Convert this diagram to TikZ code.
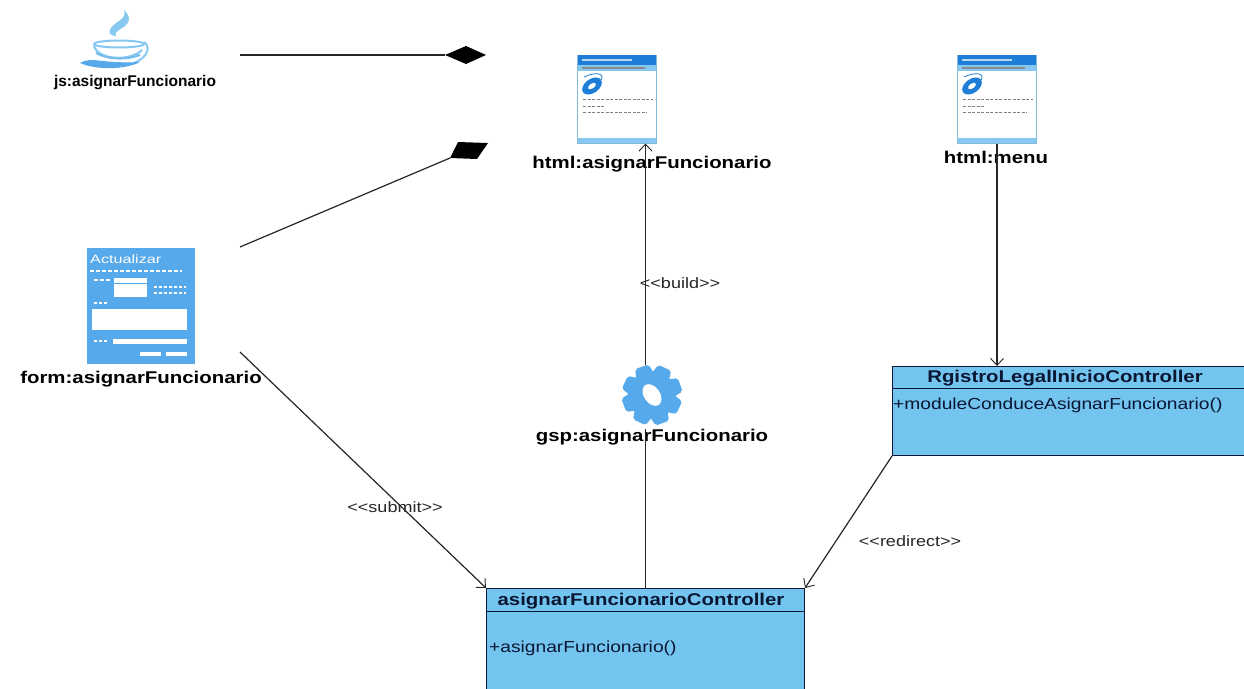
\documentclass[tikz,border=0pt]{standalone}
\usepackage{fontspec}
\setmainfont{Liberation Sans}
\usetikzlibrary{arrows.meta,shapes.geometric}
\definecolor{classblue}{RGB}{115,197,240}
\definecolor{iconblue}{RGB}{86,170,235}
\definecolor{iconpale}{RGB}{135,200,240}
\definecolor{headblue}{RGB}{30,125,215}
\definecolor{ink}{RGB}{10,22,50}
\newcommand{\wide}[1]{\scalebox{1.2}[1]{#1}}
\newcommand{\widemember}[1]{\scalebox{1.2}[1]{#1}}
\tikzset{
  conn/.style={draw=black!85,line width=1.2pt},
  arr/.style={conn,-{Straight Barb[length=7pt,width=13pt,line width=0.9pt]}},
  lbl/.style={font=\fontsize{17}{19}\selectfont\bfseries,text=black,inner sep=0pt},
  edge label/.style={font=\fontsize{15}{17}\selectfont,text=black!85,inner sep=0pt},
  classbox/.style={draw=ink,line width=1pt,fill=classblue,inner sep=0pt},
  classname/.style={font=\fontsize{17}{19}\selectfont\bfseries,text=ink,inner sep=0pt},
  member/.style={font=\fontsize{16}{18}\selectfont,text=ink,inner sep=0pt,anchor=west},
  pageicon/.style={draw=iconpale!80!gray,line width=1pt,fill=white,minimum width=79pt,minimum height=88pt,inner sep=0pt},
  diamondhead/.style={fill=black,draw=none},
}
\newcommand{\pagedetails}[1]{%
  \begin{scope}[shift={(#1)}]
    \fill[headblue] (-39,-44) rectangle (39,-34);
    \fill[iconpale] (-39,-34) rectangle (39,-28);
    \fill[iconpale] (-39,39) rectangle (39,44);
    \fill[white,opacity=.7] (-35,-40) rectangle (15,-38);
    \fill[black!45] (-35,-32) rectangle (28,-30);
    \fill[headblue,rotate around={35:(-25,-13)}] (-25,-13) ellipse (11 and 7);
    \fill[white,rotate around={35:(-25,-13)}] (-25,-13) ellipse (4.5 and 2.4);
    \draw[headblue,line width=.8pt] (-33,-22) .. controls (-20,-28) and (-12,-25) .. (-16,-19);
    \foreach \yy/\xe in {0/36,7/-12,13/30}{
      \draw[black!50,line width=1pt,dash pattern=on 3pt off 1.5pt] (-34,\yy) -- (\xe,\yy);
    }
  \end{scope}}
\begin{document}
\begin{tikzpicture}[x=1pt,y=-1pt]
\useasboundingbox (0,0) rectangle (1244,688);
\clip (0,0) rectangle (1244,688);
\fill[white] (0,0) rectangle (1244,688);

% free connector ends
\coordinate (jsEnd) at (240,55);
\coordinate (jsTip) at (445,55);
\coordinate (formUp) at (240,247);
\coordinate (formTip) at (450,158);
\coordinate (formDown) at (240,352);

% java icon
\node[minimum width=72pt,minimum height=64pt,inner sep=0pt] (jsicon) at (116,41) {};
\fill[iconpale] (124,10) .. controls (128,20) and (112,22) .. (110,30) .. controls (108,34) and (112,36) .. (116,36)
  .. controls (112,30) and (130,28) .. (129,18) .. controls (128,14) and (126,12) .. (124,10) -- cycle;
\draw[iconpale,line width=2pt] (119,44) ellipse (25 and 3.5);
\draw[iconpale,line width=2.2pt] (94,46) .. controls (98,60) and (130,62) .. (142,50);
\draw[iconblue!80,line width=2pt] (96,53) .. controls (108,60) and (128,60) .. (140,55);
\draw[iconpale,line width=2pt] (144,42) .. controls (150,46) and (150,56) .. (134,63);
\fill[iconblue] (80,63) .. controls (92,56) and (100,64) .. (140,62) .. controls (125,70) and (95,70) .. (80,63) -- cycle;
\node[lbl,font=\fontsize{15.5}{17}\selectfont\bfseries] (jslabel) at (135,83) {js:asignarFuncionario};

% html icons
\node[pageicon] (htmlicon) at (617,99) {};
\pagedetails{617,99}
\node[lbl] (htmllabel) at (652,164) {\wide{html:asignarFuncionario}};
\node[pageicon] (menuicon) at (997,99) {};
\pagedetails{997,99}
\node[lbl] (menulabel) at (996,157) {\wide{html:menu}};

% form icon
\node[fill=iconblue,minimum width=108pt,minimum height=116pt,inner sep=0pt] (formicon) at (141,306) {};
\node[anchor=west,font=\fontsize{12}{14}\selectfont,text=white,inner sep=0pt] (formtitle) at (90,259) {\scalebox{1.35}[1]{Actualizar}};
\draw[white,line width=1.6pt,dash pattern=on 4pt off 2pt] (90,271) -- (182,271);
\draw[white,line width=1.6pt,dash pattern=on 4pt off 2pt] (94,280) -- (110,280);
\fill[white] (114,278) rectangle (147,297);
\draw[iconblue,line width=1pt] (114,283) -- (147,283);
\draw[white,line width=1.6pt,dash pattern=on 3pt off 2pt] (154,287) -- (186,287);
\draw[white,line width=1.6pt,dash pattern=on 3pt off 2pt] (154,293) -- (186,293);
\draw[white,line width=1.6pt,dash pattern=on 3pt off 2pt] (94,303) -- (108,303);
\fill[white] (92,309) rectangle (187,330);
\draw[white,line width=1.6pt,dash pattern=on 3pt off 2pt] (94,341) -- (108,341);
\fill[white] (113,339) rectangle (187,344);
\fill[white] (140,352) rectangle (161,356);
\fill[white] (166,352) rectangle (187,356);
\node[lbl] (formlabel) at (141,379) {\wide{form:asignarFuncionario}};

% gear icon
\node[minimum width=60pt,minimum height=60pt,inner sep=0pt] (gear) at (652,395) {};
\foreach \a in {0,45,...,315}{
  \fill[iconblue,rotate around={\a+20:(652,395)},rounded corners=2pt] (645,365) -- (659,365) -- (662,378) -- (642,378) -- cycle;
}
\fill[iconblue] (652,395) circle (24);
\fill[white,rotate around={35:(652,395)}] (652,395) ellipse (8 and 12);
\node[lbl] (gsplabel) at (652,437) {\wide{gsp:asignarFuncionario}};

% classes
\node[classbox,minimum width=318pt,minimum height=130pt,anchor=north west] (ctrl) at (486,588) {};
\draw[ink,line width=1pt] (486,611) -- (804,611);
\node[classname] (ctrlname) at (641,601) {\wide{asignarFuncionarioController}};
\node[member] (ctrlmember) at (489,648) {\widemember{+asignarFuncionario()}};

\node[classbox,minimum width=372pt,minimum height=89pt,anchor=north west] (legal) at (892,366) {};
\draw[ink,line width=1pt] (892,388) -- (1244,388);
\node[classname] (legalname) at (1065,378) {\wide{RgistroLegalInicioController}};
\node[member] (legalmember) at (893,405) {\widemember{+moduleConduceAsignarFuncionario()}};

% connectors
\draw[conn] (jsEnd) -- (jsTip);
\fill[diamondhead] (jsTip) -- (466,46) -- (486,55) -- (466,64) -- cycle;
\draw[conn] (formUp) -- (formTip);
\fill[diamondhead] (formTip) -- (458,142) -- (488,143) -- (477,159) -- cycle;
\draw[arr] (ctrl.north |- gear.north) -- (ctrl.north |- htmlicon.south);
\draw[conn] (ctrl.north) -- (ctrl.north |- gsplabel.north);
\draw[arr] (menuicon.south) -- (menuicon.south |- legal.north);
\draw[arr] (formDown) -- (ctrl.north west);
\draw[arr] (legal.south west) -- (ctrl.north east);

% connector labels
\node[edge label] (buildlabel) at (680,283) {\wide{{<}{<}build{>}{>}}};
\node[edge label] (submitlabel) at (395,507) {\wide{{<}{<}submit{>}{>}}};
\node[edge label] (redirectlabel) at (910,541) {\wide{{<}{<}redirect{>}{>}}};
\end{tikzpicture}
\end{document}
